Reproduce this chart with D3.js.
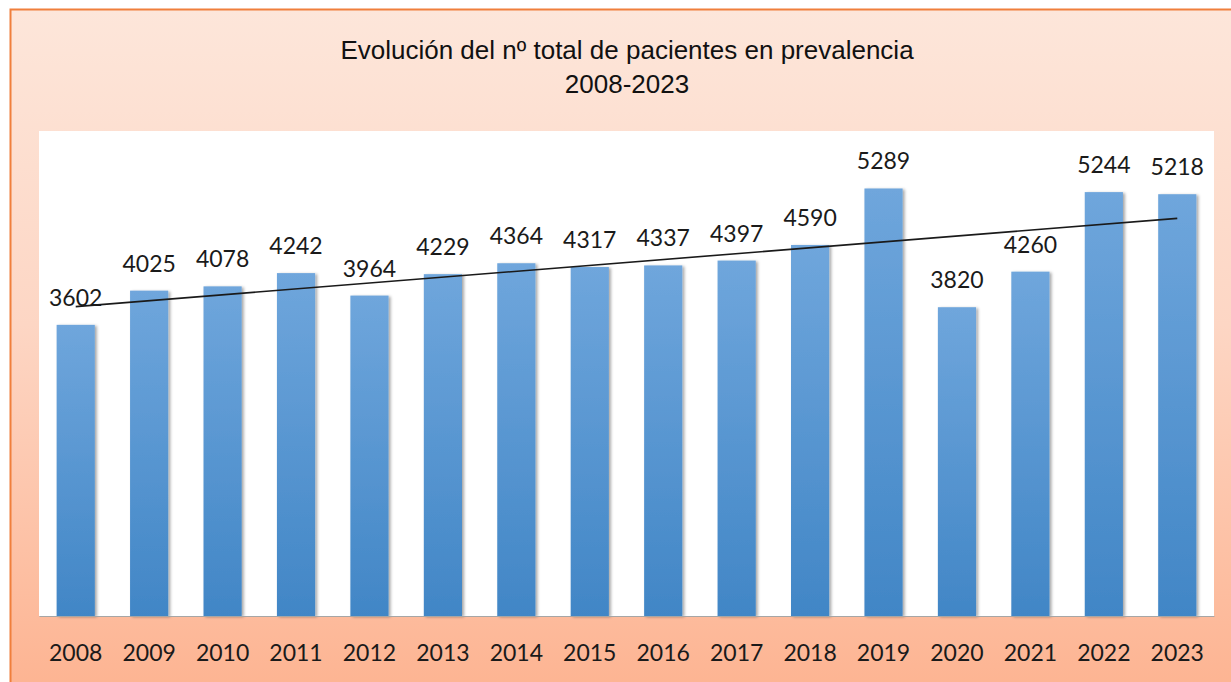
<!DOCTYPE html>
<html><head><meta charset="utf-8">
<script src="https://cdn.jsdelivr.net/npm/d3@7"></script>
<style>body{margin:0;background:#fff;}svg{display:block;}</style>
</head><body>
<svg id="c" width="1231" height="682"></svg>
<script>
const years = ["2008","2009","2010","2011","2012","2013","2014","2015","2016","2017","2018","2019","2020","2021","2022","2023"];
const patients = [3602,4025,4078,4242,3964,4229,4364,4317,4337,4397,4590,5289,3820,4260,5244,5218];
const titleLines = ["Evolución del nº total de pacientes en prevalencia","2008-2023"];

const svg = d3.select("#c");
const defs = svg.append("defs");
const bg = defs.append("linearGradient").attr("id","bg").attr("x1",0).attr("y1",0).attr("x2",0).attr("y2",1);
bg.append("stop").attr("offset","0%").attr("stop-color","#fde6da");
bg.append("stop").attr("offset","45%").attr("stop-color","#fdd6c4");
bg.append("stop").attr("offset","100%").attr("stop-color","#fdb28f");
const bar = defs.append("linearGradient").attr("id","bar").attr("x1",0).attr("y1",0).attr("x2",0).attr("y2",1);
bar.append("stop").attr("offset","0%").attr("stop-color","#6fa6dc");
bar.append("stop").attr("offset","100%").attr("stop-color","#4186c6");
const sh = defs.append("filter").attr("id","sh").attr("x","-30%").attr("y","-10%").attr("width","160%").attr("height","120%");
sh.append("feDropShadow").attr("dx",2).attr("dy",1).attr("stdDeviation",1.5).attr("flood-color","#000").attr("flood-opacity",0.35);

// frame
svg.append("rect").attr("x",10.5).attr("y",9.5).attr("width",1240).attr("height",700)
  .attr("fill","url(#bg)").attr("stroke","#f07f3c").attr("stroke-width",2);

const m = {l:39, r:1214, t:131, b:616};
svg.append("rect").attr("x",m.l).attr("y",m.t).attr("width",m.r-m.l).attr("height",m.b-m.t).attr("fill","#fff");

const x = d3.scaleBand().domain(years).range([m.l,m.r]).paddingInner(0.48).paddingOuter(0.24);
const y = d3.scaleLinear().domain([0,6000]).range([m.b,m.t]);

svg.append("g").selectAll("rect").data(patients).join("rect")
  .attr("x",(d,i)=>x(years[i])).attr("y",d=>y(d))
  .attr("width",x.bandwidth()).attr("height",d=>y(0)-y(d))
  .attr("fill","url(#bar)").attr("filter","url(#sh)");

// axis
const ax = svg.append("g").attr("transform",`translate(0,${m.b})`).call(d3.axisBottom(x).tickSize(0).tickPadding(29));
ax.select(".domain").attr("stroke","#a6a6a6").attr("stroke-width",1.2);
ax.selectAll("text").attr("font-family","Lato, 'Open Sans', sans-serif").attr("font-size",23).attr("fill","#1a1a1a");

// labels
svg.append("g").selectAll("text").data(patients).join("text")
  .attr("x",(d,i)=>x(years[i])+x.bandwidth()/2).attr("y",d=>y(d)-19)
  .attr("text-anchor","middle").attr("font-family","Lato, 'Open Sans', sans-serif").attr("font-size",23).attr("fill","#1a1a1a")
  .text(d=>d);

// linear trend
const n = patients.length, idx = d3.range(n);
const mx = d3.mean(idx), my = d3.mean(patients);
const slope = d3.sum(idx,i=>(i-mx)*(patients[i]-my))/d3.sum(idx,i=>(i-mx)*(i-mx));
const icpt = my - slope*mx;
const cx = i => x(years[i])+x.bandwidth()/2;
svg.append("line").attr("x1",cx(0)).attr("y1",y(icpt)).attr("x2",cx(n-1)).attr("y2",y(icpt+slope*(n-1)))
  .attr("stroke","#1a1a1a").attr("stroke-width",1.6);

// title
const t = svg.append("text").attr("text-anchor","middle").attr("font-family","'Liberation Sans Narrow','Liberation Sans',Arial,sans-serif")
  .attr("font-size",26).attr("fill","#111");
t.selectAll("tspan").data(titleLines).join("tspan").attr("x",627).attr("y",(d,i)=>59+i*34).text(d=>d);
</script>
</body></html>
